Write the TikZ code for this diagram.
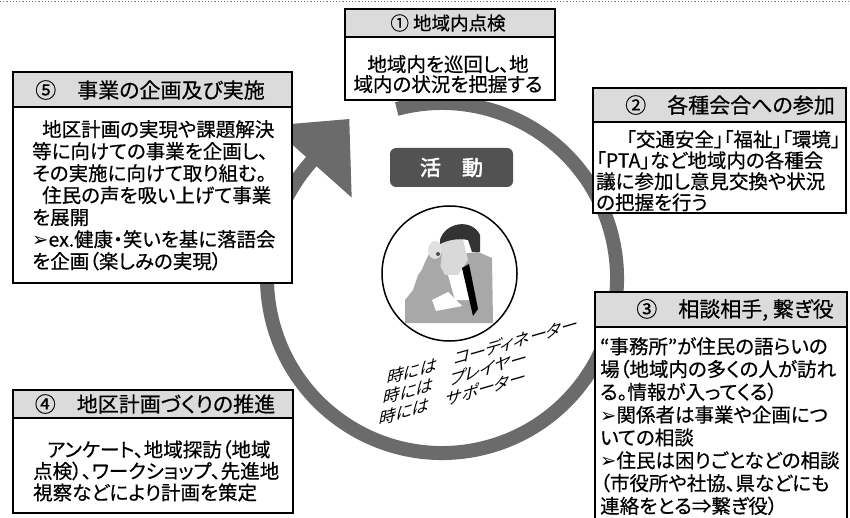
\documentclass[tikz,border=0pt]{standalone}
\usepackage{fontspec}
\usetikzlibrary{calc}
\newfontfamily\jp{Noto Sans CJK JP}[RawFeature={+palt},FakeBold=0.5]
\newfontfamily\jpb{Noto Sans CJK JP}[FakeBold=2.5]
\newfontfamily\jpr{Noto Sans CJK JP}[RawFeature={+palt}]
\newfontfamily\sym{DejaVu Sans}
\newcommand{\bul}{{\sym\char"27A2}}
\definecolor{ringgray}{gray}{0.42}
\definecolor{hdrgray}{gray}{0.86}
\definecolor{suitgray}{gray}{0.66}
\tikzset{
  hdr/.style={draw=black, line width=1.5pt, fill=hdrgray, inner sep=0pt},
  pane/.style={draw=black, line width=1.5pt, fill=white, inner sep=0pt},
  htitle/.style={font=\jp\fontsize{21}{24}\selectfont, inner sep=0pt},
  body/.style={font=\jp\fontsize{19.5}{22}\selectfont, inner sep=0pt, anchor=north west, align=left},
  % lettering that rises to the right with its upright strokes leaning forward
  role/.style={font=\jpr\fontsize{17.5}{20.5}\selectfont, inner sep=0pt, anchor=north west, align=left,
               cm={0.961,0.276,0.191,0.982,(0,0)}},
}
\begin{document}
\begin{tikzpicture}[x=1pt,y=-1pt]
\useasboundingbox (0,0) rectangle (850,518);
\fill[white] (0,0) rectangle (850,518);

% dotted rule along the top edge
\coordinate (tl) at (0,1.5);
\coordinate (tr) at (850,1.5);
\draw[gray, dotted, line width=1.2pt] (tl) -- (tr);

% the activity cycle: a thick ring ending in a broad arrowhead
\coordinate (C) at (442,278);
\coordinate (B) at ($(C)+(138.3:175pt)$);
\draw[ringgray, line width=14pt] ($(C)+(105:175pt)$) arc[start angle=105, end angle=-222.5, radius=175pt];
\fill[ringgray] ($(B)+(48.3:57pt)$) -- ($(B)+(138.3:54pt)$) -- ($(B)+(-41.7:54pt)$) -- cycle;

% centre label
\node[fill=black!68, rounded corners=6pt, minimum width=123pt, minimum height=39pt,
      inner sep=0pt, text=white, font=\jpb\fontsize{21}{24}\selectfont] (act) at (451.5,167.5) {活　動};

% portrait in a circle
\node[draw, circle, line width=1.5pt, minimum size=135pt, inner sep=0pt] (fig) at (449.5,273.5) {};
\fill[suitgray] (405,323) -- (405,300) -- (413,290) -- (418,275) -- (428,262) -- (445,262)
  -- (460,254) -- (478,252) -- (492,258) -- (493,323) -- cycle;
\fill[white] (448,275) -- (462,262) -- (470,300) -- (455,300) -- cycle;
\fill[black!15] (440,238) -- (462,236) -- (468,260) -- (458,275) -- (445,275) -- (438,262) -- cycle;
\fill[suitgray] (413,292) -- (425,262) -- (432,248) -- (442,252) -- (440,270) -- (428,290) -- cycle;
\fill[black!12] (435,250) ellipse[x radius=7pt, y radius=9pt];
\fill[black!80] (440,240) .. controls (445,222) and (472,218) .. (480,235) -- (480,252) -- (472,252)
  -- (468,240) .. controls (458,238) and (448,240) .. (440,244) -- cycle;
\fill[black] (462,268) -- (469,264) -- (478,309) -- (473,316) -- cycle;
\fill[white] (432,300) -- (448,292) -- (462,306) -- (436,311) -- cycle;
\fill[black!70] (438,254) circle (2pt);

% roles
\node[role] (roles) at (389,370) {時には　コーディネーター\\時には　プレイヤー\\時には　サポーター};

% box 1
\node[hdr, minimum width=210pt, minimum height=28pt] (h1) at (450,23) {};
\node[pane, minimum width=210pt, minimum height=63pt] (b1) at (450,68.5) {};
\node[htitle, font=\jp\fontsize{18.5}{22}\selectfont] (t1) at (448,23) {① 地域内点検};
\node[body, anchor=north, align=center, font=\jp\fontsize{19.5}{20}\selectfont] (x1) at (448,55) {地域内を巡回し、地\\域内の状況を把握する};

% box 2
\node[hdr, minimum width=253pt, minimum height=34pt] (h2) at (719.5,105) {};
\node[pane, minimum width=253pt, minimum height=91pt] (b2) at (719.5,167.5) {};
\node[htitle] (t2) at (730,105) {②　各種会合への参加};
\node[body, font=\jp\fontsize{19.5}{21}\selectfont] (x2) at (596,130) {\hspace*{30pt}「交通安全」「福祉」「環境」\\「PTA」など地域内の各種会\\議に参加し意見交換や状況\\の把握を行う};

% box 3
\node[hdr, minimum width=252pt, minimum height=35pt] (h3) at (721,309.5) {};
\node[pane, minimum width=252pt, minimum height=201pt] (b3) at (721,427.5) {};
\node[htitle] (t3) at (735,310) {③　相談相手, 繋ぎ役};
\node[body, font=\jp\fontsize{19.5}{22.8}\selectfont] (x3) at (600,337) {“事務所”が住民の語らいの\\場（地域内の多くの人が訪れ\\る。情報が入ってくる）\\\bul 関係者は事業や企画につ\\いての相談\\\bul 住民は困りごとなどの相談\\（市役所や社協、県などにも\\連絡をとる⇒繋ぎ役）};

% box 4
\node[hdr, minimum width=280pt, minimum height=28pt] (h4) at (153,404) {};
\node[pane, minimum width=280pt, minimum height=95pt] (b4) at (153,465.5) {};
\node[htitle] (t4) at (155,404) {④　地区計画づくりの推進};
\node[body, font=\jp\fontsize{19.5}{21.5}\selectfont] (x4) at (33,440) {\hspace*{14pt}アンケート、地域探訪（地域\\点検）、ワークショップ、先進地\\視察などにより計画を策定};

% box 5
\node[hdr, minimum width=279pt, minimum height=35pt] (h5) at (152.5,89.5) {};
\node[pane, minimum width=279pt, minimum height=176pt] (b5) at (152.5,195) {};
\node[htitle] (t5) at (150,90) {⑤　事業の企画及び実施};
\node[body] (x5) at (32,120) {\hspace*{10pt}地区計画の実現や課題解決\\等に向けての事業を企画し、\\その実施に向けて取り組む。\\\hspace*{10pt}住民の声を吸い上げて事業\\を展開\\\bul ex.健康・笑いを基に落語会\\を企画（楽しみの実現）};
\end{tikzpicture}
\end{document}
